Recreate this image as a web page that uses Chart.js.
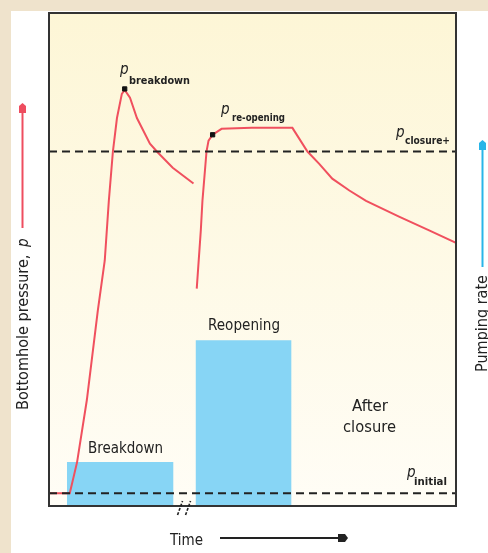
<!DOCTYPE html>
<html>
<head>
<meta charset="utf-8">
<script src="https://cdn.jsdelivr.net/npm/chart.js@4.4.1/dist/chart.umd.min.js"></script>
<style>
  html, body { margin: 0; padding: 0; background: #ffffff; }
  canvas { display: block; }
</style>
</head>
<body>
<canvas id="c" width="488" height="553"></canvas>
<script>
// ---- Data (time in arbitrary units 0..100, pressure / rate in arbitrary units 0..100) ----
const timeBreakdown     = [0, 5.1, 6.9, 9.3, 12.0, 13.7, 14.7, 15.7, 16.7, 17.9, 18.6, 19.9, 21.6, 24.8, 26.5, 30.4, 35.5];
const pressureBreakdown = [2.6, 2.6, 8.9, 21.5, 39.7, 49.8, 61.9, 71.9, 78.7, 83.6, 84.4, 82.8, 78.7, 73.5, 71.9, 68.6, 65.4];

const timeReopening     = [36.3, 37.3, 37.7, 38.7, 39.2, 40.2, 42.4, 49.8, 59.8, 63.5, 66.4, 69.6, 73.8, 77.9, 86.0, 93.4, 100];
const pressureReopening = [44.1, 55.9, 61.9, 71.9, 74.1, 75.3, 76.5, 76.7, 76.7, 71.9, 69.4, 66.4, 64.0, 61.9, 58.7, 55.9, 53.4];

const pClosure = 71.9;
const pInitial = 2.6;

const markerTimes     = [18.6, 40.2];
const markerPressures = [84.6, 75.3];

const pumpPhases = ["Breakdown", "Reopening"];
const pumpStart  = [4.4, 36.0];
const pumpEnd    = [30.6, 59.6];
const pumpRate   = [8.9, 33.6];

const xMin = 0, xMax = 100, yMin = 0, yMax = 100;

// ---- helpers ----
const toXY = (xs, ys) => xs.map((x, i) => ({ x: x, y: ys[i] }));
const rectPts = (i) => [
  { x: pumpStart[i], y: 0 }, { x: pumpStart[i], y: pumpRate[i] },
  { x: pumpEnd[i], y: pumpRate[i] }, { x: pumpEnd[i], y: 0 }
];

const RED = '#f0505e';
const BLUE = '#87d5f5';
const DARK = '#222222';
const FONT = "'Liberation Sans Narrow', 'DejaVu Sans Condensed', 'Liberation Sans', sans-serif";

function fitText(ctx, text, x, y, width, font, color) {
  ctx.save();
  ctx.font = font;
  ctx.fillStyle = color || DARK;
  ctx.textAlign = 'left';
  ctx.textBaseline = 'alphabetic';
  const w = ctx.measureText(text).width;
  ctx.translate(x, y);
  ctx.scale(width / w, 1);
  ctx.fillText(text, 0, 0);
  ctx.restore();
}

function subLabel(ctx, sub, px, pBase, subX, subBase, subW) {
  ctx.save();
  ctx.font = "italic 15px " + FONT;
  ctx.fillStyle = DARK;
  ctx.textAlign = 'left';
  ctx.fillText('p', px, pBase);
  ctx.restore();
  fitText(ctx, sub, subX, subBase, subW, "bold 10px " + FONT);
}

const decorPlugin = {
  id: 'decor',
  beforeDraw(chart) {
    const ctx = chart.ctx;
    const a = chart.chartArea;
    ctx.save();
    ctx.fillStyle = '#efe3cc';
    ctx.fillRect(0, 0, chart.width, chart.height);
    ctx.fillStyle = '#ffffff';
    ctx.fillRect(11, 11, chart.width - 11, chart.height - 11);
    const g = ctx.createLinearGradient(0, a.top, 0, a.bottom);
    g.addColorStop(0, '#fdf6d6');
    g.addColorStop(1, '#fffdf6');
    ctx.fillStyle = g;
    ctx.fillRect(a.left, a.top, a.right - a.left, a.bottom - a.top);
    ctx.restore();
  },
  afterDraw(chart) {
    const ctx = chart.ctx;
    const a = chart.chartArea;
    ctx.save();
    // frame
    ctx.strokeStyle = '#333333';
    ctx.lineWidth = 2;
    ctx.strokeRect(a.left, a.top, a.right - a.left, a.bottom - a.top);

    // axis break mark
    const xs = chart.scales.x;
    const bx = xs.getPixelForValue((pumpEnd[0] + pumpStart[1]) / 2);
    ctx.strokeStyle = DARK;
    ctx.lineWidth = 1.6;
    ctx.setLineDash([3, 1.5]);
    [-4, 4].forEach(d => {
      ctx.beginPath();
      ctx.moveTo(bx + d - 3, a.bottom + 9);
      ctx.lineTo(bx + d + 2, a.bottom - 5);
      ctx.stroke();
    });
    ctx.setLineDash([]);

    // left arrow (pressure)
    ctx.strokeStyle = '#ee4d5f';
    ctx.fillStyle = '#ee4d5f';
    ctx.lineWidth = 2;
    ctx.beginPath(); ctx.moveTo(22.5, 228); ctx.lineTo(22.5, 110); ctx.stroke();
    ctx.beginPath(); ctx.moveTo(19, 113); ctx.lineTo(19, 106); ctx.lineTo(22.5, 103); ctx.lineTo(26, 106); ctx.lineTo(26, 113); ctx.closePath(); ctx.fill();

    // right arrow (pumping rate)
    ctx.strokeStyle = '#29b5e8';
    ctx.fillStyle = '#29b5e8';
    ctx.beginPath(); ctx.moveTo(482.5, 267); ctx.lineTo(482.5, 147); ctx.stroke();
    ctx.beginPath(); ctx.moveTo(479, 150); ctx.lineTo(479, 143); ctx.lineTo(482.5, 140); ctx.lineTo(486, 143); ctx.lineTo(486, 150); ctx.closePath(); ctx.fill();

    // time arrow
    ctx.strokeStyle = DARK;
    ctx.fillStyle = DARK;
    ctx.beginPath(); ctx.moveTo(220, 538); ctx.lineTo(340, 538); ctx.stroke();
    ctx.beginPath(); ctx.moveTo(338, 534); ctx.lineTo(345, 534); ctx.lineTo(348, 538); ctx.lineTo(345, 542); ctx.lineTo(338, 542); ctx.closePath(); ctx.fill();
    ctx.restore();

    // axis titles (rotated)
    ctx.save();
    ctx.translate(28, 410);
    ctx.rotate(-Math.PI / 2);
    fitText(ctx, 'Bottomhole pressure, ', 0, 0, 160, "15px " + FONT);
    ctx.font = "italic 15px " + FONT;
    ctx.fillStyle = DARK;
    ctx.fillText('p', 163, 0);
    ctx.restore();

    ctx.save();
    ctx.translate(487, 372);
    ctx.rotate(-Math.PI / 2);
    fitText(ctx, 'Pumping rate', 0, 0, 97, "15px " + FONT);
    ctx.restore();

    // in-plot labels
    fitText(ctx, pumpPhases[1], 208, 330, 72, "15px " + FONT);
    fitText(ctx, pumpPhases[0], 88, 453, 75, "15px " + FONT);
    fitText(ctx, 'After', 352, 411, 36, "15px " + FONT);
    fitText(ctx, 'closure', 343, 432, 53, "15px " + FONT);
    fitText(ctx, 'Time', 170, 545, 33, "15px " + FONT);

    subLabel(ctx, 'breakdown', 120, 74, 129, 84, 61);
    subLabel(ctx, 're-opening', 221, 114, 232, 121, 53);
    subLabel(ctx, 'closure+', 396, 137, 405, 144, 45);
    subLabel(ctx, 'initial', 407, 477, 414, 485, 33);
  }
};

const dashed = (y) => [{ x: xMin, y: y }, { x: xMax, y: y }];

new Chart(document.getElementById('c'), {
  type: 'line',
  data: {
    datasets: [
      { data: toXY(markerTimes, markerPressures), showLine: false, pointStyle: 'rect', pointRadius: 3,
        pointBackgroundColor: '#111', pointBorderColor: '#111', order: 0 },
      { data: dashed(pClosure), borderColor: DARK, borderWidth: 2, borderDash: [8, 5], pointRadius: 0, order: 1 },
      { data: dashed(pInitial), borderColor: DARK, borderWidth: 2, borderDash: [8, 5], pointRadius: 0, order: 1 },
      { data: toXY(timeBreakdown, pressureBreakdown), borderColor: RED, borderWidth: 2, pointRadius: 0, tension: 0, order: 2 },
      { data: toXY(timeReopening, pressureReopening), borderColor: RED, borderWidth: 2, pointRadius: 0, tension: 0, order: 2 },
      { data: rectPts(0), yAxisID: 'y2', borderWidth: 0, borderColor: 'rgba(0,0,0,0)', backgroundColor: BLUE,
        fill: 'origin', pointRadius: 0, order: 5 },
      { data: rectPts(1), yAxisID: 'y2', borderWidth: 0, borderColor: 'rgba(0,0,0,0)', backgroundColor: BLUE,
        fill: 'origin', pointRadius: 0, order: 5 }
    ]
  },
  options: {
    responsive: false,
    devicePixelRatio: 1,
    animation: false,
    layout: { padding: { left: 49, right: 32, top: 13, bottom: 47 } },
    scales: {
      x: { type: 'linear', min: xMin, max: xMax, display: false },
      y: { min: yMin, max: yMax, display: false },
      y2: { min: yMin, max: yMax, display: false, position: 'right' }
    },
    plugins: { legend: { display: false }, tooltip: { enabled: false } },
    events: []
  },
  plugins: [decorPlugin]
});
</script>
</body>
</html>
